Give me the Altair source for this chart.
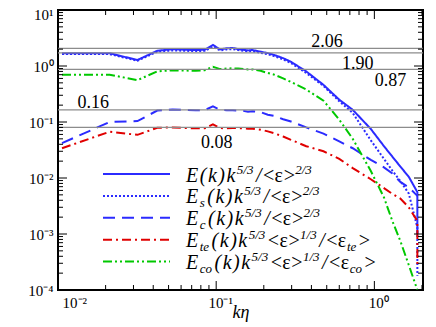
import altair as alt
import pandas as pd

# ---------------- data ----------------
k_eta = [0.0106, 0.0212, 0.0318, 0.0424, 0.053, 0.0636, 0.0742, 0.0848, 0.0954, 0.106,
         0.1166, 0.1272, 0.1378, 0.1484, 0.159, 0.1696, 0.1908, 0.212, 0.233, 0.265,
         0.297, 0.371, 0.477, 0.60, 0.73, 0.95, 1.15, 1.30, 1.46, 1.65, 1.87, 1.8701]

E_tot = [1.69, 1.69, 1.28, 1.87, 2.00, 1.95, 1.93, 1.95, 2.37, 1.98, 2.07, 2.10, 2.00, 1.95, 1.90, 1.93,
         1.80, 1.70, 1.57, 1.38, 1.19, 0.80, 0.46, 0.25, 0.165, 0.075, 0.037, 0.024, 0.016, 0.0105,
         0.0056, 0.0010]
E_s = [1.63, 1.63, 1.24, 1.80, 1.90, 1.87, 1.85, 1.87, 2.20, 1.90, 1.98, 2.00, 1.92, 1.87, 1.82, 1.84,
       1.72, 1.62, 1.50, 1.31, 1.13, 0.75, 0.44, 0.235, 0.145, 0.047, 0.022, 0.0135, 0.0088, 0.0053,
       0.0013, 0.00018]
E_c = [0.042, 0.100, 0.104, 0.160, 0.168, 0.165, 0.162, 0.163, 0.190, 0.165, 0.162, 0.162, 0.160, 0.158,
       0.152, 0.155, 0.150, 0.135, 0.128, 0.112, 0.102, 0.080, 0.062, 0.045, 0.034, 0.021, 0.0155, 0.012,
       0.0085, 0.0068, 0.0048, 0.0048]
E_te = [0.034, 0.067, 0.059, 0.079, 0.080, 0.078, 0.077, 0.077, 0.091, 0.078, 0.077, 0.078, 0.078, 0.077,
        0.076, 0.076, 0.073, 0.068, 0.063, 0.055, 0.048, 0.037, 0.030, 0.022, 0.015, 0.0095, 0.0066,
        0.0052, 0.0043, 0.0030, 0.0017, 0.00028]
E_co = [0.70, 0.70, 0.56, 0.80, 0.84, 0.83, 0.82, 0.84, 0.97, 0.88, 0.90, 0.91, 0.90, 0.88, 0.87, 0.87,
        0.82, 0.75, 0.70, 0.60, 0.52, 0.38, 0.24, 0.11, 0.05, 0.0133, 0.0045, 0.0017, 0.00075, 0.00028,
        0.0001, 0.0001]

series_names = ["E", "Es", "Ec", "Ete", "Eco"]
series_values = [E_tot, E_s, E_c, E_te, E_co]

ref_labels = ["2.06", "1.90", "0.87", "0.16", "0.08"]
ref_levels = [2.06, 1.72, 0.87, 0.165, 0.08]
ref_label_k = [0.502, 0.786, 1.263, 0.01673, 0.101]
ref_label_v = [2.158, 0.899, 0.434, 0.1807, 0.0349]

x_major = [0.01, 0.1, 1]
x_minor = [0.02, 0.03, 0.04, 0.05, 0.06, 0.07, 0.08, 0.09,
           0.2, 0.3, 0.4, 0.5, 0.6, 0.7, 0.8, 0.9, 2]
y_major = [1e-4, 1e-3, 1e-2, 1e-1, 1, 10]
y_minor = [m * e for e in (1e-4, 1e-3, 1e-2, 1e-1, 1) for m in (2, 3, 4, 5, 6, 7, 8, 9)]

# ---------------- styling ----------------
W, H = 365, 280
FONT = "Liberation Serif"
BLUE, RED, GREEN = "#2b2bff", "#e00000", "#00c800"
colors = [BLUE, BLUE, BLUE, RED, GREEN]
dashes = [[1, 0], [2, 2], [12, 7], [9, 4, 2, 4], [9, 3, 2, 3, 2, 3]]
MAJOR_LEN, MINOR_LEN = 9, 5

rows = []
for name, vals in zip(series_names, series_values):
    for i, (kk, v) in enumerate(zip(k_eta, vals)):
        rows.append({"series": name, "k": kk, "v": v, "i": i})
df = pd.DataFrame(rows)

xscale = alt.Scale(type="log", domain=[0.01, 2.03], nice=False)
yscale = alt.Scale(type="log", domain=[1e-4, 10], nice=False)
cscale = alt.Scale(domain=series_names, range=colors)
dscale = alt.Scale(domain=series_names, range=dashes)

x_label_expr = "datum.value < 0.03 ? '10⁻²' : datum.value < 0.3 ? '10⁻¹' : '10⁰'"
y_label_expr = ("datum.value < 0.0005 ? '10⁻⁴' : datum.value < 0.005 ? '10⁻³' : "
                "datum.value < 0.05 ? '10⁻²' : datum.value < 0.5 ? '10⁻¹' : "
                "datum.value < 5 ? '10⁰' : '10¹'")

x_axis_main = alt.Axis(orient="bottom", values=x_major, labelExpr=x_label_expr,
                       ticks=False, domain=False, grid=False, labelFont=FONT, labelFontSize=15,
                       labelColor="black", labelPadding=5, labelOffset=4, title="kη",
                       titleFont=FONT, titleFontSize=18, titleFontStyle="italic",
                       titleFontWeight="normal", titleColor="black", titleY=27,
                       titleBaseline="alphabetic")
y_axis_main = alt.Axis(orient="left", values=y_major, labelExpr=y_label_expr,
                       ticks=False, domain=False, grid=False, labelFont=FONT, labelFontSize=15,
                       labelColor="black", labelPadding=5, title=None,
                       labelOffset={"condition": {"test": "datum.value > 5", "value": 4}, "value": 0})

lines = alt.Chart(df).mark_line(strokeWidth=2, clip=True).encode(
    x=alt.X("k:Q", scale=xscale, axis=x_axis_main),
    y=alt.Y("v:Q", scale=yscale, axis=y_axis_main),
    color=alt.Color("series:N", scale=cscale, legend=None),
    strokeDash=alt.StrokeDash("series:N", scale=dscale, legend=None),
    order=alt.Order("i:Q"),
)

ref_df = pd.DataFrame({"level": ref_levels})
ref_rules = alt.Chart(ref_df).mark_rule(color="#8c8c8c", strokeWidth=1.2).encode(
    y=alt.Y("level:Q", scale=yscale, axis=None)
)

lab_df = pd.DataFrame({"txt": ref_labels, "k": ref_label_k, "v": ref_label_v})
ref_text = alt.Chart(lab_df).mark_text(font=FONT, fontSize=18, color="black",
                                       align="center", baseline="alphabetic").encode(
    x=alt.X("k:Q", scale=xscale, axis=None),
    y=alt.Y("v:Q", scale=yscale, axis=None),
    text="txt:N",
)

# inward ticks on all four sides, positioned along each edge by the log scales
tick_layers = []
for vals, length in ((x_major, MAJOR_LEN), (x_minor, MINOR_LEN)):
    tdf = pd.DataFrame({"t": vals})
    for y0, y1 in ((H, H - length), (0, length)):
        tick_layers.append(alt.Chart(tdf).mark_rule(color="black", strokeWidth=1).encode(
            x=alt.X("t:Q", scale=xscale, axis=None), y=alt.value(y0), y2=alt.value(y1)))
for vals, length in ((y_major, MAJOR_LEN), (y_minor, MINOR_LEN)):
    tdf = pd.DataFrame({"t": vals})
    for x0, x1 in ((0, length), (W, W - length)):
        tick_layers.append(alt.Chart(tdf).mark_rule(color="black", strokeWidth=1).encode(
            y=alt.Y("t:Q", scale=yscale, axis=None), x=alt.value(x0), x2=alt.value(x1)))

plot = alt.layer(lines, ref_rules, *tick_layers, ref_text).resolve_axis(x="independent", y="independent")

# ---------------- hand-made legend (pixel coordinates inside the plot) ----------------
legend_tokens = [
    [("E(k)k", "i"), ("5/3", "sup"), ("/", "i"), ("<ε>", "r"), ("2/3", "sup")],
    [("E", "i"), ("s", "sub"), ("(k)k", "i"), ("5/3", "sup"), ("/", "i"), ("<ε>", "r"), ("2/3", "sup")],
    [("E", "i"), ("c", "sub"), ("(k)k", "i"), ("5/3", "sup"), ("/", "i"), ("<ε>", "r"), ("2/3", "sup")],
    [("E", "i"), ("te", "sub"), ("(k)k", "i"), ("5/3", "sup"), ("<ε>", "r"), ("1/3", "sup"), ("/", "i"),
     ("<ε", "r"), ("te", "sub"), (">", "r")],
    [("E", "i"), ("co", "sub"), ("(k)k", "i"), ("5/3", "sup"), ("<ε>", "r"), ("1/3", "sup"), ("/", "i"),
     ("<ε", "r"), ("co", "sub"), (">", "r")],
]
W_IT = {"E": 0.611, "(": 0.333, "k": 0.444, ")": 0.333, "/": 0.278, "s": 0.389, "c": 0.444, "t": 0.278,
        "e": 0.444, "o": 0.5, "<": 0.675, ">": 0.675}
W_RM = {"<": 0.564, ">": 0.564, "ε": 0.44, "/": 0.278}
BASE, SCRIPT = 20, 13
LX1, LX2, TX0, ROW0, ROWSTEP = 45, 112, 128, 164, 21.9

pieces = []
samples = []
for r, (name, toks) in enumerate(zip(series_names, legend_tokens)):
    yc = ROW0 + ROWSTEP * r
    base_y = yc + 7.5
    samples.append({"series": name, "x1": LX1, "x2": LX2, "y": yc})
    x = TX0
    for text, kind in toks:
        if kind in ("i", "r"):
            table = W_IT if kind == "i" else W_RM
            track = 1.5 if kind == "i" else 0.3
            for ch in text:
                pieces.append({"t": ch, "px": x, "py": base_y, "kind": kind})
                x += table.get(ch, 0.5) * BASE + track
        else:
            py = base_y - 8 if kind == "sup" else base_y + 4
            pieces.append({"t": text, "px": x, "py": py, "kind": "script"})
            x += sum(W_IT.get(ch, 0.5) for ch in text) * SCRIPT + 2.5

pdf = pd.DataFrame(pieces)
sdf = pd.DataFrame(samples)
px_scale = alt.Scale(domain=[0, W], range=[0, W], nice=False, zero=False)
py_scale = alt.Scale(domain=[0, H], range=[0, H], nice=False, zero=False)

leg_lines = alt.Chart(sdf).mark_rule(strokeWidth=2).encode(
    x=alt.X("x1:Q", scale=px_scale, axis=None),
    x2="x2:Q",
    y=alt.Y("y:Q", scale=py_scale, axis=None),
    color=alt.Color("series:N", scale=cscale, legend=None),
    strokeDash=alt.StrokeDash("series:N", scale=dscale, legend=None),
)


def leg_text(kind, size, style):
    return alt.Chart(pdf[pdf["kind"] == kind]).mark_text(
        font=FONT, fontSize=size, fontStyle=style, color="black", align="left", baseline="alphabetic"
    ).encode(
        x=alt.X("px:Q", scale=px_scale, axis=None),
        y=alt.Y("py:Q", scale=py_scale, axis=None),
        text="t:N",
    )


legend = alt.layer(leg_lines, leg_text("i", BASE, "italic"), leg_text("r", BASE, "normal"),
                   leg_text("script", SCRIPT, "italic"))

chart = alt.layer(plot, legend).resolve_scale(x="independent", y="independent").properties(
    width=W, height=H,
    background="white",
    autosize=alt.AutoSizeParams(type="none"),
    padding={"left": 50, "top": 2, "right": 5, "bottom": 37},
).configure_view(stroke="black", strokeWidth=2)

chart.save("out.html", embed_options={"renderer": "svg", "actions": False})
